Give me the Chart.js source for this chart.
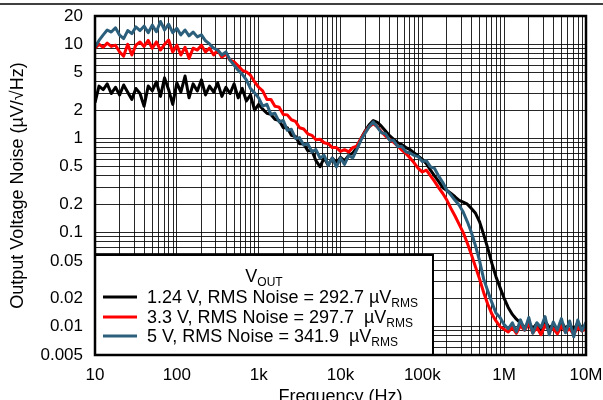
<!DOCTYPE html>
<html>
<head>
<meta charset="utf-8">
<script src="https://cdn.jsdelivr.net/npm/chart.js@4.4.0/dist/chart.umd.min.js"></script>
<style>
  html, body { margin: 0; padding: 0; background: #fff; overflow: hidden; }
  #wrap { width: 603px; height: 400px; overflow: hidden; }
</style>
</head>
<body>
<div id="wrap"><canvas id="chart" width="603" height="410"></canvas></div>
<script>
// frequency points (Hz), 20 per decade
const freq = [
  10, 11.2, 12.6, 14.1, 15.8, 17.8, 20, 22.4, 25.1, 28.2, 31.6, 35.5, 39.8, 44.7, 50.1, 56.2, 63.1, 70.8, 79.4, 89.1,
  100, 112, 126, 141, 158, 178, 200, 224, 251, 282, 316, 355, 398, 447, 501, 562, 631, 708, 794, 891,
  1e3, 1.12e3, 1.26e3, 1.41e3, 1.58e3, 1.78e3, 2e3, 2.24e3, 2.51e3, 2.82e3, 3.16e3, 3.55e3, 3.98e3, 4.47e3, 5.01e3, 5.62e3, 6.31e3, 7.08e3, 7.94e3, 8.91e3,
  1e4, 1.12e4, 1.26e4, 1.41e4, 1.58e4, 1.78e4, 2e4, 2.24e4, 2.51e4, 2.82e4, 3.16e4, 3.55e4, 3.98e4, 4.47e4, 5.01e4, 5.62e4, 6.31e4, 7.08e4, 7.94e4, 8.91e4,
  1e5, 1.12e5, 1.26e5, 1.41e5, 1.58e5, 1.78e5, 2e5, 2.24e5, 2.51e5, 2.82e5, 3.16e5, 3.55e5, 3.98e5, 4.47e5, 5.01e5, 5.62e5, 6.31e5, 7.08e5, 7.94e5, 8.91e5,
  1e6, 1.12e6, 1.26e6, 1.41e6, 1.58e6, 1.78e6, 2e6, 2.24e6, 2.51e6, 2.82e6, 3.16e6, 3.55e6, 3.98e6, 4.47e6, 5.01e6, 5.62e6, 6.31e6, 7.08e6, 7.94e6, 8.91e6,
  1e7
];

// output noise, uV/rtHz
const noise124 = [
  2.4, 3.6, 3.3, 3.8, 3.0, 3.5, 2.9, 3.7, 3.1, 2.6, 3.4, 3.0, 2.2, 3.6, 3.2, 4.0, 2.8, 4.4, 3.3, 2.3,
  3.9, 3.1, 4.6, 2.7, 3.8, 3.2, 4.2, 2.9, 3.6, 3.1, 3.9, 2.8, 3.5, 3.0, 3.8, 2.7, 3.4, 2.5, 2.9, 2.0,
  2.3, 2.05, 1.85, 1.8, 1.6, 1.55, 1.3, 1.3, 1.08, 1.05, 0.88, 0.88, 0.74, 0.74, 0.58, 0.5, 0.62, 0.52, 0.62, 0.55,
  0.63, 0.58, 0.66, 0.7, 0.8, 1.0, 1.2, 1.4, 1.55, 1.48, 1.35, 1.2, 1.07, 0.98, 0.9, 0.86, 0.8, 0.76, 0.7, 0.65,
  0.6, 0.54, 0.46, 0.4, 0.35, 0.3, 0.28, 0.26, 0.24, 0.22, 0.21, 0.2, 0.18, 0.16, 0.13, 0.095, 0.068, 0.047, 0.034, 0.026,
  0.02, 0.016, 0.0135, 0.012, 0.011, 0.0098, 0.0112, 0.0095, 0.0108, 0.0092, 0.0115, 0.0098, 0.0104, 0.009, 0.0112, 0.0096, 0.0106, 0.0092, 0.011, 0.0097,
  0.0103
];
const noise33 = [
  9.1, 10, 9.3, 10.3, 9.5, 9.8, 8.3, 7.5, 10, 7.7, 9.8, 10.6, 9.5, 11, 9.1, 10.6, 8.7, 10, 11.1, 8.3,
  9.8, 7.7, 9.3, 7.1, 9.1, 8.7, 9.8, 8.3, 9.1, 7.7, 8.7, 7.3, 7.9, 6.8, 6.5, 5.9, 5.3, 5.1, 4.7, 4.0,
  3.5, 3.2, 2.6, 2.6, 2.2, 2.15, 1.8, 1.78, 1.58, 1.52, 1.3, 1.26, 1.12, 1.08, 0.97, 0.98, 0.9, 0.88, 0.8, 0.8,
  0.73, 0.76, 0.72, 0.8, 0.83, 1.0, 1.18, 1.33, 1.43, 1.33, 1.18, 1.06, 0.98, 0.91, 0.83, 0.75, 0.69, 0.62, 0.55, 0.48,
  0.44, 0.46, 0.4, 0.35, 0.3, 0.26, 0.22, 0.18, 0.15, 0.122, 0.1, 0.077, 0.058, 0.043, 0.032, 0.023, 0.0173, 0.0136, 0.0115, 0.01,
  0.0094, 0.0088, 0.0098, 0.0085, 0.0102, 0.0092, 0.0108, 0.0086, 0.0098, 0.0082, 0.0104, 0.009, 0.0096, 0.0084, 0.0102, 0.0088, 0.0095, 0.0083, 0.0098, 0.009,
  0.0094
];
const noise5 = [
  9.3, 11, 12.6, 14.2, 13.5, 15, 12.5, 11.5, 14, 13, 15.3, 14, 15.6, 13.3, 16, 13.6, 17.5, 14.2, 16.4, 13.3,
  14.8, 12.6, 14.2, 12.3, 13.5, 12, 12.6, 10.9, 10.1, 9.1, 8.7, 7.7, 8.3, 6.8, 6.0, 5.3, 4.8, 4.2, 3.4, 3.05,
  2.7, 2.2, 2.3, 1.8, 1.85, 1.5, 1.55, 1.22, 1.25, 1.0, 1.02, 0.85, 0.88, 0.72, 0.76, 0.62, 0.66, 0.52, 0.62, 0.5,
  0.62, 0.53, 0.66, 0.62, 0.76, 0.96, 1.14, 1.33, 1.5, 1.32, 1.15, 1.12, 0.96, 0.95, 0.82, 0.82, 0.72, 0.7, 0.66, 0.64,
  0.57, 0.58, 0.5, 0.48, 0.4, 0.34, 0.28, 0.25, 0.22, 0.195, 0.165, 0.13, 0.1, 0.072, 0.05, 0.032, 0.024, 0.018, 0.014, 0.0125,
  0.0105, 0.0095, 0.011, 0.0088, 0.0118, 0.0092, 0.0125, 0.0085, 0.011, 0.0098, 0.0128, 0.0082, 0.0112, 0.0092, 0.0122, 0.0086, 0.0115, 0.0078, 0.0118, 0.009,
  0.0112
];

const seriesNames = ['1.24 V, RMS Noise = 292.7 ', '3.3 V, RMS Noise = 297.7  ', '5 V, RMS Noise = 341.9  '];
const seriesColors = ['#000000', '#ff0000', '#2b5f7b'];

const yTickValues = [0.005, 0.01, 0.02, 0.05, 0.1, 0.2, 0.5, 1, 2, 5, 10, 20];
const yTickLabels = ['0.005', '0.01', '0.02', '0.05', '0.1', '0.2', '0.5', '1', '2', '5', '10', '20'];
const xTickValues = [10, 100, 1e3, 1e4, 1e5, 1e6, 1e7];
const xTickLabels = ['10', '100', '1k', '10k', '100k', '1M', '10M'];

const FONT = '"Liberation Sans", Arial, Helvetica, sans-serif';

// 1..9 per decade, for the grid
function logGrid(min, max) {
  const out = [];
  for (let d = Math.floor(Math.log10(min)); d <= Math.ceil(Math.log10(max)); d++) {
    for (let m = 1; m <= 9; m++) {
      const v = Number((m * Math.pow(10, d)).toPrecision(6));
      if (v >= min * 0.9999 && v <= max * 1.0001) out.push(v);
    }
  }
  return out;
}

function labelFor(v, values, labels) {
  const i = values.findIndex(t => Math.abs(v / t - 1) < 1e-6);
  return i < 0 ? '' : labels[i];
}

const toPoints = arr => freq.map((f, i) => ({ x: f, y: arr[i] }));

const figurePlugin = {
  id: 'figurePlugin',
  beforeDraw(chart) {
    const ctx = chart.ctx;
    ctx.save();
    ctx.fillStyle = '#fff';
    ctx.fillRect(0, 0, chart.width, chart.height);
    ctx.strokeStyle = '#000';
    ctx.lineWidth = 1.5;
    ctx.beginPath();
    ctx.moveTo(0, 4);
    ctx.lineTo(chart.width, 4);
    ctx.stroke();
    ctx.restore();
  },
  afterDatasetsDraw(chart) {
    const ctx = chart.ctx;
    const a = chart.chartArea;
    const box = { left: a.left, top: 255, right: 433, bottom: a.bottom };
    ctx.save();
    ctx.fillStyle = '#fff';
    ctx.fillRect(box.left, box.top, box.right - box.left, box.bottom - box.top);
    ctx.strokeStyle = '#000';
    ctx.lineWidth = 2;
    ctx.strokeRect(box.left, box.top, box.right - box.left, box.bottom - box.top);

    ctx.fillStyle = '#000';
    ctx.textBaseline = 'alphabetic';
    // title V_OUT
    ctx.font = '18px ' + FONT;
    const wV = ctx.measureText('V').width;
    ctx.font = '12px ' + FONT;
    const wSub = ctx.measureText('OUT').width;
    const cx = (box.left + box.right) / 2;
    const tx = cx - (wV + wSub) / 2;
    ctx.font = '18px ' + FONT;
    ctx.fillText('V', tx, 282);
    ctx.font = '12px ' + FONT;
    ctx.fillText('OUT', tx + wV, 286);

    const baselines = [303, 323, 342];
    seriesNames.forEach((name, i) => {
      const y = baselines[i];
      ctx.strokeStyle = seriesColors[i];
      ctx.lineWidth = 3;
      ctx.beginPath();
      ctx.moveTo(103, y - 6);
      ctx.lineTo(137, y - 6);
      ctx.stroke();
      ctx.font = '18px ' + FONT;
      let x = 147;
      ctx.fillText(name, x, y);
      x += ctx.measureText(name).width;
      ctx.fillText('\u00b5V', x, y);
      x += ctx.measureText('\u00b5V').width;
      ctx.font = '12px ' + FONT;
      ctx.fillText('RMS', x, y + 4);
    });
    ctx.restore();
  },
  afterDraw(chart) {
    const ctx = chart.ctx;
    const a = chart.chartArea;
    ctx.save();
    ctx.strokeStyle = '#000';
    ctx.lineWidth = 2.5;
    ctx.strokeRect(a.left, a.top, a.right - a.left, a.bottom - a.top);
    ctx.restore();
  }
};

const lineStyle = { borderWidth: 3, pointRadius: 0, tension: 0, fill: false, borderJoinStyle: 'round' };

new Chart(document.getElementById('chart').getContext('2d'), {
  type: 'line',
  data: {
    datasets: [
      { label: seriesNames[0], data: toPoints(noise124), borderColor: seriesColors[0], order: 3, ...lineStyle },
      { label: seriesNames[1], data: toPoints(noise33), borderColor: seriesColors[1], order: 2, ...lineStyle },
      { label: seriesNames[2], data: toPoints(noise5), borderColor: seriesColors[2], order: 1, ...lineStyle }
    ]
  },
  options: {
    responsive: false,
    animation: false,
    devicePixelRatio: 1,
    layout: { padding: { top: 16, right: 17, left: 0, bottom: 0 } },
    plugins: { legend: { display: false }, tooltip: { enabled: false } },
    scales: {
      x: {
        type: 'logarithmic',
        min: 10,
        max: 1e7,
        afterBuildTicks: s => { s.ticks = logGrid(10, 1e7).map(v => ({ value: v })); },
        afterFit: s => { s.height = 55; s.paddingLeft = 0; s.paddingRight = 0; },
        border: { display: false },
        grid: { color: 'rgba(0,0,0,0.85)', lineWidth: 1, drawTicks: false },
        ticks: {
          autoSkip: false, maxRotation: 0, padding: 10, color: '#000',
          font: { family: FONT, size: 17 },
          callback: v => labelFor(v, xTickValues, xTickLabels)
        },
        title: { display: true, text: 'Frequency (Hz)', color: '#000', font: { family: FONT, size: 18 }, padding: { top: 0, bottom: 2 } }
      },
      y: {
        type: 'logarithmic',
        min: 0.005,
        max: 20,
        afterBuildTicks: s => { s.ticks = logGrid(0.005, 20).map(v => ({ value: v })); },
        afterFit: s => { s.width = 95; s.paddingTop = 0; s.paddingBottom = 0; },
        border: { display: false },
        grid: { color: 'rgba(0,0,0,0.85)', lineWidth: 1, drawTicks: false },
        ticks: {
          autoSkip: false, padding: 12, color: '#000',
          font: { family: FONT, size: 17 },
          callback: v => labelFor(v, yTickValues, yTickLabels)
        },
        title: { display: true, text: 'Output Voltage Noise (\u00b5V/\u221aHz)', color: '#000', font: { family: FONT, size: 18 }, padding: { top: 7, bottom: 0 } }
      }
    }
  },
  plugins: [figurePlugin]
});
</script>
</body>
</html>
